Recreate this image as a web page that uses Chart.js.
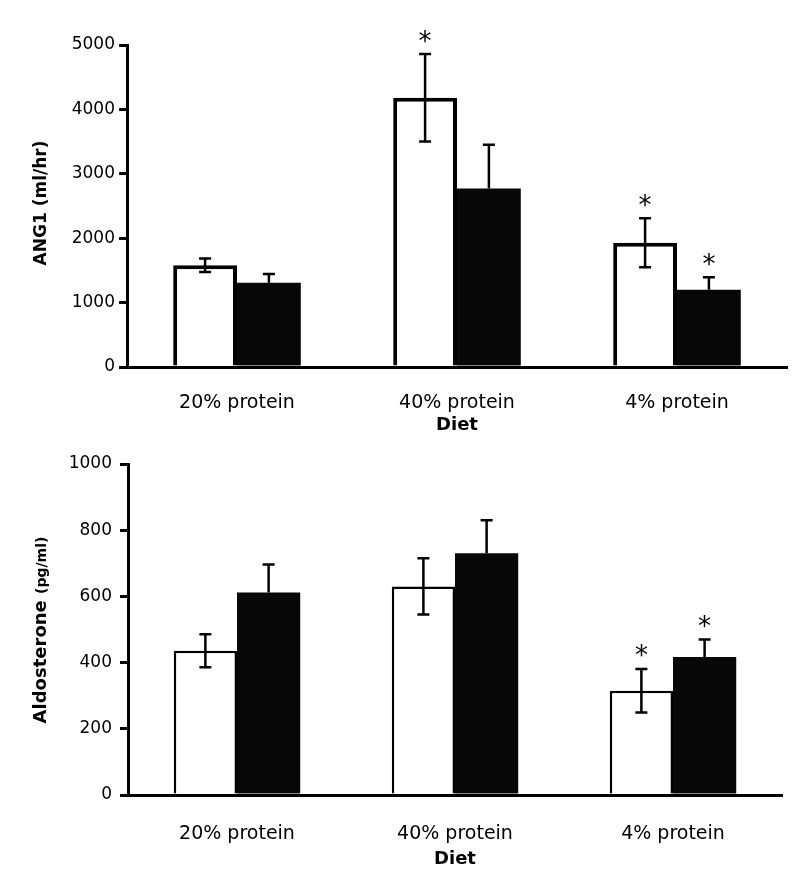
<!DOCTYPE html>
<html>
<head>
<meta charset="utf-8">
<script src="https://cdn.jsdelivr.net/npm/chart.js@4.4.1/dist/chart.umd.min.js"></script>
<style>
  body { margin: 0; background: #fff; }
  .box { position: absolute; left: 0; width: 800px; }
</style>
</head>
<body>
<div class="box" style="top:0;height:440px"><canvas id="angChart"></canvas></div>
<div class="box" style="top:440px;height:441px"><canvas id="aldoChart"></canvas></div>
<script>
// Data
const categories = ['20% protein', '40% protein', '4% protein'];

const angWhite = [1580, 4180, 1930];
const angWhiteErr = [105, 680, 380];
const angWhiteSig = [false, true, true];
const angBlack = [1310, 2770, 1200];
const angBlackErr = [135, 680, 195];
const angBlackSig = [false, false, true];
const angTicks = { max: 5000, step: 1000 };

const aldoWhite = [436, 630, 315];
const aldoWhiteErr = [50, 85, 66];
const aldoWhiteSig = [false, false, true];
const aldoBlack = [612, 730, 417];
const aldoBlackErr = [84, 100, 53];
const aldoBlackSig = [false, false, true];
const aldoTicks = { max: 1000, step: 200 };

const FONT = 'DejaVu Sans';

// error bars + asterisks
const errorBars = {
    id: 'errorBars',
    afterDatasetsDraw(chart, args, opts) {
        const ctx = chart.ctx;
        const y = chart.scales.y;
        chart.data.datasets.forEach((ds, i) => {
            chart.getDatasetMeta(i).data.forEach((bar, j) => {
                const v = ds.data[j], e = ds.errors[j];
                const top = y.getPixelForValue(v + e);
                const bot = ds.lower ? y.getPixelForValue(v - e) : y.getPixelForValue(v);
                ctx.save();
                ctx.strokeStyle = '#000';
                ctx.lineWidth = 2.5;
                ctx.beginPath();
                ctx.moveTo(bar.x, top); ctx.lineTo(bar.x, bot);
                ctx.moveTo(bar.x - 6, top); ctx.lineTo(bar.x + 6, top);
                if (ds.lower) { ctx.moveTo(bar.x - 6, bot); ctx.lineTo(bar.x + 6, bot); }
                ctx.stroke();
                if (ds.sig[j]) {
                    ctx.fillStyle = '#000';
                    ctx.font = '26px ' + FONT;
                    ctx.textAlign = 'center';
                    ctx.textBaseline = 'alphabetic';
                    const m = ctx.measureText('*');
                    const cy = top - 18;
                    ctx.fillText('*', bar.x, cy + (m.actualBoundingBoxAscent - m.actualBoundingBoxDescent) / 2);
                }
                ctx.restore();
            });
        });
    }
};

// rotated y title, parts can have different sizes
const yTitle = {
    id: 'yTitle',
    afterDraw(chart, args, opts) {
        const ctx = chart.ctx;
        ctx.save();
        ctx.fillStyle = '#000';
        ctx.textBaseline = 'alphabetic';
        ctx.textAlign = 'left';
        let total = 0;
        const widths = opts.parts.map(p => {
            ctx.font = 'bold ' + p.size + 'px ' + FONT;
            const w = ctx.measureText(p.text).width;
            total += w;
            return w;
        });
        ctx.translate(opts.x, opts.y);
        ctx.rotate(-Math.PI / 2);
        let x = -total / 2;
        opts.parts.forEach((p, i) => {
            ctx.font = 'bold ' + p.size + 'px ' + FONT;
            ctx.fillText(p.text, x, 0);
            x += widths[i];
        });
        ctx.restore();
    }
};

function makeChart(id, white, whiteErr, whiteSig, black, blackErr, blackSig, t, lay) {
    return new Chart(document.getElementById(id), {
        type: 'bar',
        data: {
            labels: categories,
            datasets: [{
                data: white, errors: whiteErr, sig: whiteSig, lower: true,
                backgroundColor: '#fff',
                borderColor: '#000',
                borderWidth: lay.border
            }, {
                data: black, errors: blackErr, sig: blackSig, lower: false,
                backgroundColor: '#080808',
                borderWidth: 0
            }]
        },
        options: {
            responsive: true,
            maintainAspectRatio: false,
            animation: false,
            categoryPercentage: 0.58,
            barPercentage: 1,
            layout: { padding: { left: 0, right: lay.right, top: lay.top, bottom: 0 } },
            plugins: {
                legend: { display: false },
                tooltip: { enabled: false },
                yTitle: lay.title
            },
            scales: {
                x: {
                    grid: { display: false },
                    border: { color: '#000', width: 3 },
                    ticks: { color: '#000', font: { family: FONT, size: 19 }, padding: lay.xPad },
                    title: {
                        display: true, text: 'Diet', color: '#000',
                        font: { family: FONT, size: 18, weight: 'bold' },
                        padding: { top: 0, bottom: lay.titlePad }
                    },
                    afterFit: s => { s.height = lay.xHeight; }
                },
                y: {
                    min: 0, max: t.max,
                    grid: { drawOnChartArea: false, color: '#000', lineWidth: 3, tickLength: 8 },
                    border: { color: '#000', width: 3 },
                    ticks: {
                        stepSize: t.step, color: '#000', padding: lay.yPad,
                        font: { family: FONT, size: 17 },
                        callback: v => String(v)
                    },
                    afterFit: s => { s.width = lay.left; }
                }
            }
        },
        plugins: [errorBars, yTitle]
    });
}

makeChart('angChart', angWhite, angWhiteErr, angWhiteSig, angBlack, angBlackErr, angBlackSig, angTicks, {
    border: 4, left: 127, right: 13, top: 45, xHeight: 73, xPad: 17, titlePad: 4, yPad: 4,
    title: { x: 46, y: 203, parts: [{ text: 'ANG1 (ml/hr)', size: 17 }] }
});

makeChart('aldoChart', aldoWhite, aldoWhiteErr, aldoWhiteSig, aldoBlack, aldoBlackErr, aldoBlackSig, aldoTicks, {
    border: 2.5, left: 128, right: 18, top: 24, xHeight: 86, xPad: 20, titlePad: 11, yPad: 8,
    title: { x: 46, y: 190, parts: [{ text: 'Aldosterone ', size: 18 }, { text: '(pg/ml)', size: 14 }] }
});
</script>
</body>
</html>
